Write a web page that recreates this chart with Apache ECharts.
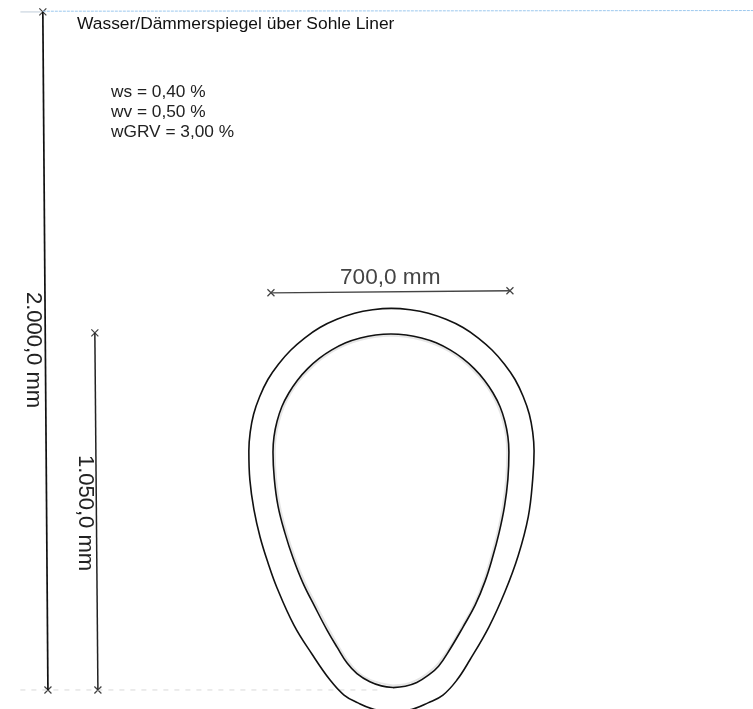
<!DOCTYPE html>
<html><head><meta charset="utf-8">
<style>html,body{margin:0;padding:0;background:#fff}#c{width:753px;height:709px}</style>
<script src="https://cdn.jsdelivr.net/npm/echarts@6/dist/echarts.min.js"></script>
</head><body><div id="c"></div>
<script>
// All geometry in millimetres
const outerProfile = [[3,-65],[-53,-56],[-97,-38],[-138,-15],[-179,29],[-232,105],[-285,190],[-335,300],[-362,375],[-385,450],[-403,530],[-415,618],[-418,703],[-414,758],[-404,811],[-386,863],[-362,913],[-331,958],[-295,999],[-254,1035],[-209,1066],[-159,1090],[-107,1108],[-54,1118],[1,1122],[57,1118],[110,1108],[162,1090],[212,1066],[257,1035],[298,999],[334,958],[365,913],[389,863],[407,811],[417,758],[421,703],[417,620],[404,510],[374,394],[335,288],[288,185],[232,88],[194,29],[153,-15],[109,-38],[65,-56],[3,-65]];
const innerProfile = [[6,7],[-28,12],[-62,24],[-100,48],[-129,79],[-158,125],[-188,176],[-224,245],[-259,315],[-288,388],[-312,462],[-332,540],[-343,620],[-347,700],[-344,745],[-335,790],[-321,833],[-300,874],[-275,911],[-245,945],[-211,975],[-174,1000],[-133,1021],[-90,1035],[-45,1044],[0,1047],[45,1044],[90,1035],[133,1021],[174,1000],[211,975],[245,945],[275,911],[300,874],[321,833],[335,790],[344,745],[347,700],[344,620],[334,540],[318,462],[299,390],[277,320],[248,250],[212,185],[175,122],[140,70],[108,42],[76,22],[42,11],[6,7]];
const innerHalo = [[6,13],[-60,29],[-97,52],[-125,83],[-154,128],[-183,179],[-219,248],[-254,318],[-283,390],[-307,463],[-327,541],[-338,620],[-342,700],[-339,745],[-330,789],[-316,831],[-296,871],[-271,908],[-241,941],[-208,971],[-172,996],[-131,1016],[-89,1030],[-44,1039],[0,1042],[44,1039],[89,1030],[131,1016],[172,996],[208,971],[241,941],[271,908],[296,871],[316,831],[330,789],[339,745],[342,700],[339,620],[329,540],[313,461],[294,389],[272,318],[243,248],[207,183],[170,120],[135,73],[105,47],[74,28],[42,17],[6,13]];
const dim2000 = [[-1024,1994],[-1009,0]];
const dim1050 = [[-871,1050],[-862,0]];
const dim700 = [[-353,1168],[350,1174]];
const waterTop = [[-1024,1996],[1065,1998]];
const waterStub = [[-1090,1994],[-1030,1994]];
const soleLine = [[-1090,0],[-960,0],[-40,0]];
const labels = {
  title: 'Wasser/Dämmerspiegel über Sohle Liner',
  slopes: ['ws = 0,40 %','wv = 0,50 %','wGRV = 3,00 %'],
  d2000: '2.000,0 mm', d1050: '1.050,0 mm', d700: '700,0 mm'
};
const line = (data,color,width,extra) => Object.assign({type:'line',data,symbol:'none',silent:true,animation:false,
  lineStyle:Object.assign({color,width},extra&&extra.dash?{type:extra.dash}:{})},extra&&extra.smooth?{smooth:extra.smooth}:{});
const ticks = p => ({type:'scatter',data:p,symbol:'path://M0 0L10 10M10 0L0 10',symbolSize:7,silent:true,animation:false,
  itemStyle:{color:'none',borderColor:'#111',borderWidth:1.2}});
const txt = (text,x,y,size,fill,rot) => ({type:'text',x,y,rotation:rot||0,silent:true,
  style:{text,fontFamily:'Liberation Sans',fontSize:size,fill,textAlign:rot?'center':'left',textVerticalAlign:'middle'}});
const chart = echarts.init(document.getElementById('c'),null,{renderer:'canvas'});
chart.setOption({
  backgroundColor:'#fff',
  animation:false,
  grid:{left:0,right:0,top:0,bottom:0},
  xAxis:{type:'value',min:-1150,max:1065,show:false},
  yAxis:{type:'value',min:-56,max:2029,show:false},
  series:[
    line(waterTop,'#9cc8ee',1,{dash:[3,1]}),
    line(waterStub,'#d5dde6',1.5),
    line(soleLine,'#d8d8d8',1,{dash:[5,6]}),
    line(innerHalo,'#e6e6e6',2,{smooth:0.4}),
    line(outerProfile,'#111',1.6,{smooth:0.4}),
    line(innerProfile,'#111',1.6,{smooth:0.4}),
    line(dim2000,'#111',1.7),
    line(dim1050,'#222',1.5),
    line(dim700,'#444',1.3),
    ticks(dim2000),ticks(dim1050),ticks(dim700)
  ],
  graphic:[
    txt(labels.title,77,24,17.4,'#111'),
    txt(labels.slopes[0],111,92,17.3,'#222'),
    txt(labels.slopes[1],111,112,17.3,'#222'),
    txt(labels.slopes[2],111,132,17.3,'#222'),
    txt(labels.d700,340,278,22.6,'#444'),
    txt(labels.d2000,33,350,22,'#222',-Math.PI/2),
    txt(labels.d1050,85,513,22,'#222',-Math.PI/2)
  ]
});
</script></body></html>
